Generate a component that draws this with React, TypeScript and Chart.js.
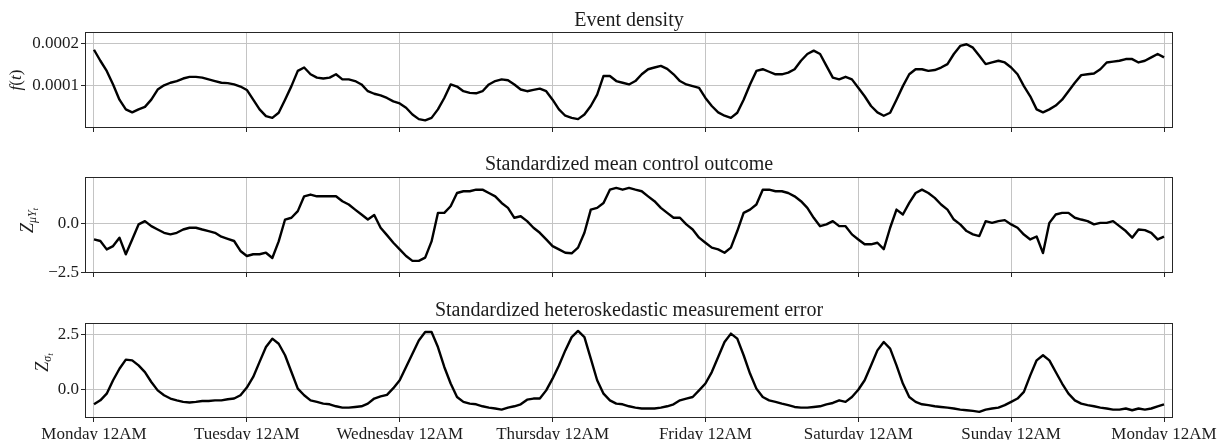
import React, { useEffect, useRef } from "react";
import { Chart, registerables } from "chart.js";

Chart.register(...registerables);

// ---------- data (one value per hour, Monday 12AM = hour 0 .. next Monday 12AM = hour 168) ----------
const X_TICK_HOURS = [0, 24, 48, 72, 96, 120, 144, 168];
const X_TICK_LABELS = [
  "Monday 12AM",
  "Tuesday 12AM",
  "Wednesday 12AM",
  "Thursday 12AM",
  "Friday 12AM",
  "Saturday 12AM",
  "Sunday 12AM",
  "Monday 12AM",
];

// Event density f(t), in units of 1e-4
const DENSITY_E4 = [
  1.85, 1.59, 1.35, 1.03, 0.67, 0.44, 0.37, 0.44, 0.5, 0.67, 0.91, 1.01, 1.07, 1.11, 1.17, 1.21, 1.21, 1.19, 1.15, 1.11, 1.07, 1.06, 1.03, 0.98,
  0.9, 0.67, 0.44, 0.28, 0.24, 0.36, 0.67, 0.99, 1.35, 1.43, 1.27, 1.19, 1.17, 1.19, 1.27, 1.15, 1.15, 1.11, 1.03, 0.87, 0.81, 0.77, 0.71, 0.63,
  0.58, 0.48, 0.32, 0.21, 0.18, 0.24, 0.44, 0.71, 1.03, 0.98, 0.87, 0.83, 0.82, 0.87, 1.03, 1.11, 1.15, 1.13, 1.03, 0.91, 0.87, 0.9, 0.93, 0.87,
  0.67, 0.44, 0.29, 0.24, 0.21, 0.32, 0.52, 0.79, 1.23, 1.23, 1.11, 1.07, 1.03, 1.11, 1.27, 1.39, 1.43, 1.47, 1.4, 1.27, 1.11, 1.03, 0.99, 0.95,
  0.71, 0.52, 0.37, 0.29, 0.24, 0.36, 0.67, 1.03, 1.35, 1.39, 1.33, 1.27, 1.27, 1.31, 1.39, 1.59, 1.75, 1.83, 1.75, 1.47, 1.19, 1.15, 1.21, 1.15,
  0.95, 0.75, 0.52, 0.37, 0.29, 0.36, 0.67, 0.99, 1.27, 1.39, 1.39, 1.35, 1.37, 1.43, 1.51, 1.75, 1.94, 1.98, 1.9, 1.71, 1.51, 1.55, 1.59, 1.55,
  1.43, 1.27, 0.99, 0.75, 0.44, 0.37, 0.44, 0.53, 0.67, 0.87, 1.07, 1.25, 1.27, 1.29, 1.39, 1.55, 1.57, 1.59, 1.63, 1.63, 1.55, 1.59, 1.67, 1.75,
  1.67,
];

// Standardized mean control outcome
const Z_MU = [
  -0.8, -0.88, -1.31, -1.14, -0.71, -1.56, -0.8, -0.03, 0.14, -0.12, -0.29, -0.46, -0.54, -0.46, -0.29, -0.2, -0.2, -0.29, -0.37, -0.46, -0.66, -0.77, -0.88, -1.39,
  -1.65, -1.56, -1.56, -1.48, -1.75, -0.9, 0.22, 0.31, 0.65, 1.41, 1.5, 1.41, 1.41, 1.41, 1.41, 1.16, 0.99, 0.73, 0.48, 0.22, 0.45, -0.2, -0.58, -0.97,
  -1.31, -1.65, -1.9, -1.9, -1.73, -0.9, 0.56, 0.56, 0.9, 1.58, 1.67, 1.67, 1.75, 1.75, 1.58, 1.41, 1.07, 0.82, 0.31, 0.39, 0.14, -0.2, -0.46, -0.8,
  -1.14, -1.31, -1.48, -1.51, -1.22, -0.46, 0.73, 0.82, 1.07, 1.75, 1.84, 1.75, 1.84, 1.75, 1.67, 1.41, 1.16, 0.82, 0.56, 0.31, 0.31, -0.03, -0.29, -0.71,
  -0.97, -1.22, -1.31, -1.48, -1.22, -0.37, 0.56, 0.73, 0.99, 1.75, 1.75, 1.67, 1.67, 1.58, 1.41, 1.16, 0.82, 0.31, -0.12, -0.03, 0.14, -0.12, -0.12, -0.54,
  -0.8, -1.05, -1.05, -0.97, -1.3, -0.2, 0.73, 0.48, 1.07, 1.58, 1.75, 1.58, 1.33, 0.99, 0.73, 0.22, -0.03, -0.37, -0.54, -0.63, 0.14, 0.05, 0.14, 0.19,
  -0.03, -0.2, -0.55, -0.8, -0.65, -1.5, 0.05, 0.48, 0.56, 0.56, 0.31, 0.22, 0.14, -0.03, 0.05, 0.05, 0.14, -0.12, -0.37, -0.71, -0.29, -0.32, -0.46, -0.8,
  -0.66,
];

// Standardized heteroskedastic measurement error
const Z_SIGMA = [
  -0.68, -0.5, -0.2, 0.41, 0.93, 1.34, 1.31, 1.08, 0.78, 0.33, -0.05, -0.27, -0.42, -0.5, -0.57, -0.6, -0.57, -0.53, -0.53, -0.5, -0.5, -0.45, -0.42, -0.27,
  0.08, 0.56, 1.24, 1.91, 2.29, 2.06, 1.54, 0.78, 0.03, -0.27, -0.5, -0.57, -0.65, -0.68, -0.77, -0.83, -0.83, -0.8, -0.77, -0.65, -0.42, -0.32, -0.25, 0.05,
  0.41, 1.01, 1.61, 2.21, 2.59, 2.59, 1.91, 1.01, 0.26, -0.35, -0.57, -0.65, -0.68, -0.77, -0.83, -0.87, -0.92, -0.83, -0.77, -0.68, -0.47, -0.42, -0.42, -0.05,
  0.48, 1.08, 1.76, 2.36, 2.64, 2.36, 1.39, 0.41, -0.2, -0.5, -0.65, -0.68, -0.77, -0.83, -0.87, -0.87, -0.87, -0.83, -0.77, -0.68, -0.5, -0.42, -0.35, -0.05,
  0.26, 0.78, 1.46, 2.14, 2.52, 2.29, 1.54, 0.71, 0.03, -0.35, -0.5, -0.57, -0.65, -0.72, -0.8, -0.83, -0.83, -0.8, -0.77, -0.68, -0.62, -0.5, -0.57, -0.35,
  -0.02, 0.41, 1.08, 1.76, 2.14, 1.84, 1.08, 0.26, -0.35, -0.57, -0.68, -0.72, -0.77, -0.8, -0.83, -0.87, -0.92, -0.95, -0.98, -1.02, -0.92, -0.87, -0.83, -0.72,
  -0.57, -0.42, -0.12, 0.63, 1.31, 1.54, 1.31, 0.78, 0.26, -0.2, -0.5, -0.65, -0.72, -0.77, -0.83, -0.87, -0.92, -0.92, -0.87, -0.95, -0.87, -0.92, -0.87, -0.77,
  -0.68,
];

const DENSITY_TICKS = [0.0001, 0.0002];
const DENSITY_TICK_LABELS = ["0.0001", "0.0002"];
const MU_TICKS = [-2.5, 0];
const MU_TICK_LABELS = ["\u22122.5", "0.0"];
const SIGMA_TICKS = [0, 2.5];
const SIGMA_TICK_LABELS = ["0.0", "2.5"];

const TITLES = [
  "Event density",
  "Standardized mean control outcome",
  "Standardized heteroskedastic measurement error",
];

// ---------- styling ----------
const FONT = '"Liberation Serif", "DejaVu Serif", serif';
const TEXT = "#1c1c1c";
const GRID = "#c4c4c4";
const SPINE = "#262626";
const W = 1222;
const AREA_LEFT = 85;
const AREA_RIGHT = 1173;
const X_MIN = -1.41;
const X_MAX = 169.41;

type Part = { t: string; size: number; italic: boolean; dy: number };

type PanelSpec = {
  top: number;
  height: number;
  areaTop: number;
  areaBottom: number;
  title: string;
  titleGap: number;
  values: number[];
  yMin: number;
  yMax: number;
  yTicks: number[];
  yTickLabels: string[];
  label: Part[];
  labelX: number;
  labelCY: number;
  showX: boolean;
};

function makeDecor(spec: PanelSpec) {
  return {
    id: "decor",
    afterDraw(chart: any) {
      const ctx: CanvasRenderingContext2D = chart.ctx;
      const a = chart.chartArea;
      ctx.save();
      // frame
      ctx.strokeStyle = SPINE;
      ctx.lineWidth = 1;
      ctx.strokeRect(
        Math.round(a.left) + 0.5,
        Math.round(a.top) + 0.5,
        Math.round(a.right - a.left) - 1,
        Math.round(a.bottom - a.top) - 1
      );
      // title
      ctx.fillStyle = TEXT;
      ctx.font = `20px ${FONT}`;
      ctx.textAlign = "center";
      ctx.textBaseline = "alphabetic";
      ctx.fillText(spec.title, (a.left + a.right) / 2, a.top - spec.titleGap);
      // y label (rotated, with subscripts)
      ctx.translate(spec.labelX, spec.labelCY);
      ctx.rotate(-Math.PI / 2);
      ctx.textAlign = "left";
      const fontOf = (p: Part) => `${p.italic ? "italic " : ""}${p.size}px ${FONT}`;
      let total = 0;
      const widths = spec.label.map((p) => {
        ctx.font = fontOf(p);
        const w = ctx.measureText(p.t).width;
        total += w;
        return w;
      });
      let x = -total / 2;
      spec.label.forEach((p, i) => {
        ctx.font = fontOf(p);
        ctx.fillText(p.t, x, p.dy);
        x += widths[i];
      });
      ctx.restore();
    },
  };
}

function buildChart(canvas: HTMLCanvasElement, spec: PanelSpec) {
  const data = spec.values.map((v, i) => ({ x: i, y: v }));
  return new Chart(canvas, {
    type: "line",
    data: {
      datasets: [
        {
          data,
          borderColor: "#000000",
          borderWidth: 2.4,
          pointRadius: 0,
          tension: 0,
          fill: false,
          borderJoinStyle: "round",
        },
      ],
    },
    options: {
      animation: false,
      responsive: false,
      maintainAspectRatio: false,
      events: [],
      layout: {
        padding: { left: 0, right: W - AREA_RIGHT, top: spec.areaTop, bottom: 0 },
      },
      plugins: {
        legend: { display: false },
        tooltip: { enabled: false },
        title: { display: false },
      },
      scales: {
        x: {
          type: "linear",
          min: X_MIN,
          max: X_MAX,
          afterBuildTicks: (s: any) => {
            s.ticks = X_TICK_HOURS.map((v) => ({ value: v }));
          },
          afterFit: (s: any) => {
            s.height = spec.height - spec.areaBottom;
          },
          ticks: {
            autoSkip: false,
            maxRotation: 0,
            minRotation: 0,
            padding: 2,
            color: TEXT,
            font: { family: FONT, size: 17 },
            callback: (v: any) => {
              if (!spec.showX) return "";
              const idx = X_TICK_HOURS.indexOf(Number(v));
              return idx >= 0 ? X_TICK_LABELS[idx] : "";
            },
          },
          grid: {
            color: GRID,
            lineWidth: 1,
            drawTicks: true,
            tickLength: 4,
            tickColor: SPINE,
            tickWidth: 1,
          },
          border: { display: false },
        },
        y: {
          type: "linear",
          min: spec.yMin,
          max: spec.yMax,
          afterBuildTicks: (s: any) => {
            s.ticks = spec.yTicks.map((v) => ({ value: v }));
          },
          afterFit: (s: any) => {
            s.width = AREA_LEFT;
          },
          ticks: {
            padding: 2,
            color: TEXT,
            font: { family: FONT, size: 17 },
            callback: (v: any) => {
              const idx = spec.yTicks.findIndex((t) => Math.abs(t - Number(v)) < 1e-9);
              return idx >= 0 ? spec.yTickLabels[idx] : "";
            },
          },
          grid: {
            color: GRID,
            lineWidth: 1,
            drawTicks: true,
            tickLength: 4,
            tickColor: SPINE,
            tickWidth: 1,
          },
          border: { display: false },
        },
      },
    } as any,
    plugins: [makeDecor(spec)],
  });
}

const PANELS: PanelSpec[] = [
  {
    top: 0,
    height: 150,
    areaTop: 32,
    areaBottom: 128,
    title: TITLES[0],
    titleGap: 6,
    values: DENSITY_E4.map((v) => v * 1e-4),
    yMin: 0,
    yMax: 0.000227,
    yTicks: DENSITY_TICKS,
    yTickLabels: DENSITY_TICK_LABELS,
    label: [
      { t: "f", size: 17, italic: true, dy: 0 },
      { t: "(", size: 17, italic: false, dy: 0 },
      { t: "t", size: 17, italic: true, dy: 0 },
      { t: ")", size: 17, italic: false, dy: 0 },
    ],
    labelX: 21,
    labelCY: 80,
    showX: false,
  },
  {
    top: 150,
    height: 146,
    areaTop: 27,
    areaBottom: 123,
    title: TITLES[1],
    titleGap: 7,
    values: Z_MU,
    yMin: -2.52,
    yMax: 2.4,
    yTicks: MU_TICKS,
    yTickLabels: MU_TICK_LABELS,
    label: [
      { t: "Z", size: 18, italic: true, dy: 0 },
      { t: "\u03bc", size: 12, italic: true, dy: 3 },
      { t: "Y", size: 12, italic: true, dy: 3 },
      { t: "t", size: 9, italic: true, dy: 5 },
    ],
    labelX: 33,
    labelCY: 70.5,
    showX: false,
  },
  {
    top: 296,
    height: 144,
    areaTop: 27,
    areaBottom: 122,
    title: TITLES[2],
    titleGap: 7,
    values: Z_SIGMA,
    yMin: -1.3,
    yMax: 3.0,
    yTicks: SIGMA_TICKS,
    yTickLabels: SIGMA_TICK_LABELS,
    label: [
      { t: "Z", size: 18, italic: true, dy: 0 },
      { t: "\u03c3", size: 12, italic: true, dy: 3 },
      { t: "t", size: 9, italic: true, dy: 5 },
    ],
    labelX: 47.5,
    labelCY: 66.5,
    showX: true,
  },
];

export default function App() {
  const r0 = useRef<HTMLCanvasElement>(null);
  const r1 = useRef<HTMLCanvasElement>(null);
  const r2 = useRef<HTMLCanvasElement>(null);
  const refs = [r0, r1, r2];

  useEffect(() => {
    const charts = PANELS.map((spec, i) => buildChart(refs[i].current as HTMLCanvasElement, spec));
    return () => charts.forEach((c) => c.destroy());
  }, []);

  return (
    <div
      style={{
        position: "fixed",
        left: 0,
        top: 0,
        width: W,
        height: 440,
        background: "#ffffff",
        overflow: "hidden",
      }}
    >
      {PANELS.map((p, i) => (
        <canvas
          key={i}
          ref={refs[i]}
          width={W}
          height={p.height}
          style={{ position: "absolute", left: 0, top: p.top, width: W, height: p.height, display: "block" }}
        />
      ))}
    </div>
  );
}
